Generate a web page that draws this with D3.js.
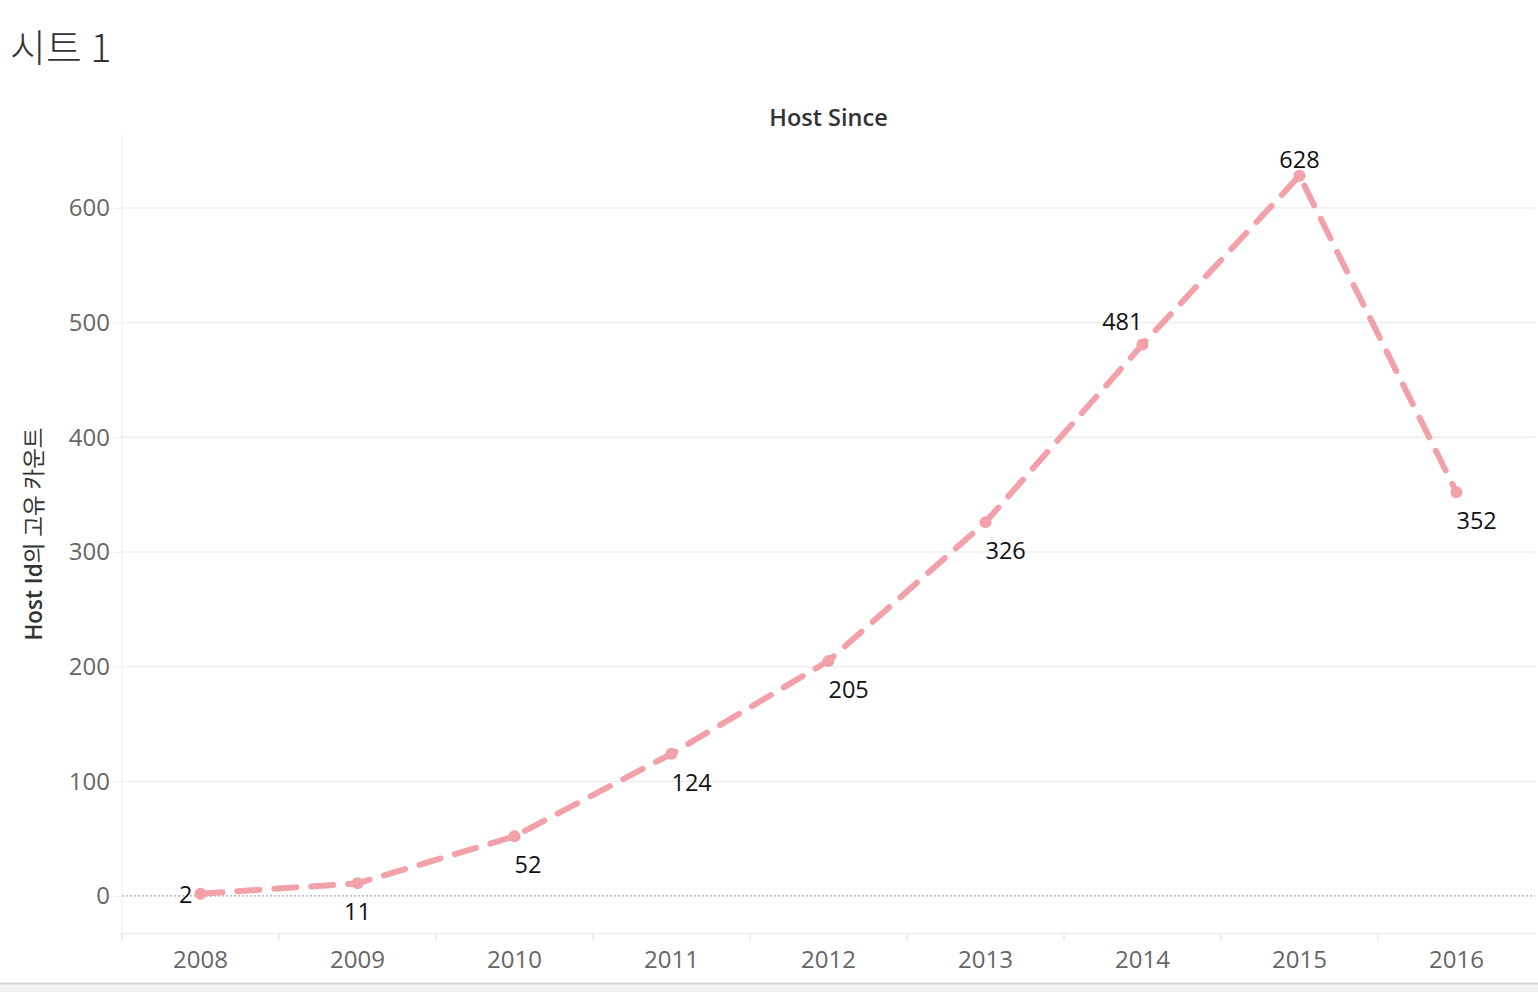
<!DOCTYPE html>
<html>
<head>
<meta charset="utf-8">
<script src="https://cdn.jsdelivr.net/npm/d3@7"></script>
<style>
  body { margin: 0; background: #fff; }
  text { font-family: "Open Sans", "Noto Sans CJK KR", sans-serif; }
</style>
</head>
<body>
<div id="chart"></div>
<script>
// Data: unique host count by year the host joined
var years = ["2008", "2009", "2010", "2011", "2012", "2013", "2014", "2015", "2016"];
var hostCounts = [2, 11, 52, 124, 205, 326, 481, 628, 352];
var yTicks = [0, 100, 200, 300, 400, 500, 600];
// where each value label sits relative to its point
var labelSide = ["left", "below", "belowRight", "belowRight", "belowRight", "belowRight", "aboveLeft", "above", "belowRight"];

var width = 1538,
    height = 992,
    plotLeft = 122,
    plotRight = 1535,
    plotTop = 135,
    plotBottom = 933;

var svg = d3.select("#chart")
    .append("svg")
    .attr("width", width)
    .attr("height", height);

// Scales
var x = d3.scaleBand()
    .domain(years)
    .range([plotLeft, plotRight]);

var y = d3.scaleLinear()
    .domain([-32.3, 663.6])
    .range([plotBottom, plotTop]);

// Sheet title
svg.append("text")
    .attr("x", 10)
    .attr("y", 62)
    .text("시트 1")
    .style("font-family", "'Noto Sans CJK KR', sans-serif")
    .style("font-weight", 300)
    .style("font-size", "39px")
    .style("fill", "#333");

// Column header
svg.append("text")
    .attr("x", (plotLeft + plotRight) / 2)
    .attr("y", 126)
    .attr("text-anchor", "middle")
    .text("Host Since")
    .style("font-size", "23.5px")
    .style("font-weight", 600)
    .style("fill", "#333");

// Horizontal grid lines
svg.append("g")
    .selectAll("line")
    .data(yTicks.filter(function(d) { return d != 0; }))
    .join("line")
    .attr("x1", plotLeft)
    .attr("x2", plotRight)
    .attr("y1", function(d) { return y(d); })
    .attr("y2", function(d) { return y(d); })
    .attr("stroke", "#ececec")
    .attr("stroke-width", 1.3);

// Zero line (dotted)
svg.append("line")
    .attr("x1", plotLeft)
    .attr("x2", plotRight)
    .attr("y1", y(0))
    .attr("y2", y(0))
    .attr("stroke", "#aaa")
    .attr("stroke-width", 1.2)
    .attr("stroke-dasharray", "2,2");

// Y axis
var yAxis = svg.append("g")
    .attr("transform", "translate(" + plotLeft + ",0)")
    .call(d3.axisLeft(y).tickValues(yTicks).tickSize(8).tickPadding(4));
yAxis.select(".domain").attr("stroke", "#eee").attr("d", "M0," + plotTop + "V" + (plotBottom + 8));
yAxis.selectAll(".tick line").attr("stroke", "#eee");
yAxis.selectAll(".tick text")
    .style("font-size", "24px")
    .style("font-family", "'Open Sans', sans-serif")
    .attr("dy", "0.33em")
    .attr("fill", "#666");

// X axis
var xAxis = svg.append("g")
    .attr("transform", "translate(0," + plotBottom + ")")
    .call(d3.axisBottom(x).tickSize(0).tickPadding(18));
xAxis.select(".domain").attr("stroke", "#eee").attr("stroke-width", 1.3);
xAxis.selectAll(".tick text")
    .style("font-size", "24px")
    .style("font-family", "'Open Sans', sans-serif")
    .attr("fill", "#666");

// band separators on the x axis
svg.append("g")
    .selectAll("line")
    .data(years)
    .join("line")
    .attr("x1", function(d) { return x(d); })
    .attr("x2", function(d) { return x(d); })
    .attr("y1", plotBottom)
    .attr("y2", plotBottom + 8)
    .attr("stroke", "#e6e6e6")
    .attr("stroke-width", 1.3);

// Y axis title
var yTitle = svg.append("text")
    .attr("transform", "translate(42," + ((plotTop + plotBottom) / 2) + ") rotate(-90)")
    .attr("text-anchor", "middle")
    .style("font-size", "22.5px")
    .style("fill", "#333");
yTitle.append("tspan").text("Host Id").style("font-weight", 600);
yTitle.append("tspan").text("의 고유 카운트");

// Line
var cx = function(d, i) { return x(years[i]) + x.bandwidth() / 2; };
var line = d3.line()
    .x(cx)
    .y(function(d) { return y(d); });

svg.append("path")
    .datum(hostCounts)
    .attr("d", line)
    .attr("fill", "none")
    .attr("stroke", "#f2a1a8")
    .attr("stroke-width", 6)
    .attr("stroke-linecap", "round")
    .attr("stroke-dasharray", "22,15");

// Points
svg.append("g")
    .selectAll("circle")
    .data(hostCounts)
    .join("circle")
    .attr("cx", cx)
    .attr("cy", function(d) { return y(d); })
    .attr("r", 6)
    .attr("fill", "#f2a1a8");

// Value labels
svg.append("g")
    .selectAll("text")
    .data(hostCounts)
    .join("text")
    .attr("x", function(d, i) {
        var side = labelSide[i];
        if (side == "left") return cx(d, i) - 8;
        return cx(d, i);
    })
    .attr("y", function(d, i) {
        var side = labelSide[i];
        if (side == "left") return y(d) + 9;
        if (side == "aboveLeft") return y(d) - 14;
        if (side == "above") return y(d) - 8;
        return y(d) + 37;
    })
    .attr("text-anchor", function(d, i) {
        var side = labelSide[i];
        if (side == "left" || side == "aboveLeft") return "end";
        if (side == "below" || side == "above") return "middle";
        return "start";
    })
    .text(function(d) { return d; })
    .style("font-size", "23.5px")
    .style("fill", "#111");

// bottom status strip
svg.append("rect")
    .attr("x", 0)
    .attr("y", 983)
    .attr("width", width)
    .attr("height", 9)
    .attr("fill", "#f0f0f0");
svg.append("line")
    .attr("x1", 0)
    .attr("x2", width)
    .attr("y1", 983.5)
    .attr("y2", 983.5)
    .attr("stroke", "#d4d4d4")
    .attr("stroke-width", 2);
</script>
</body>
</html>
